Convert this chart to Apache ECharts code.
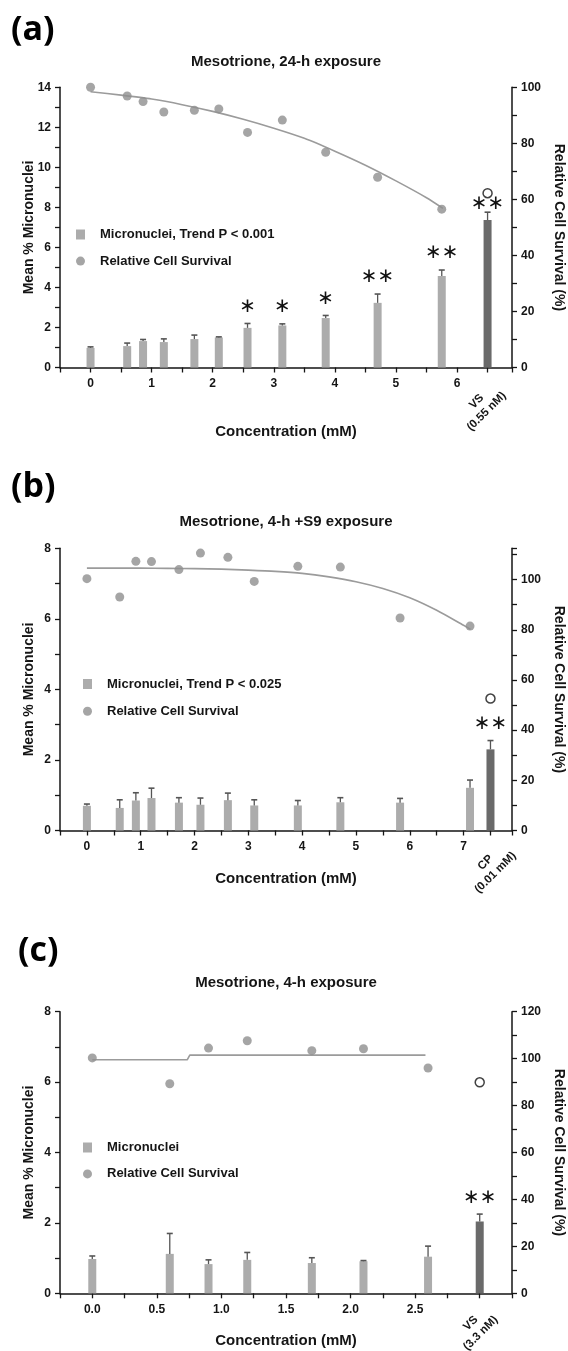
<!DOCTYPE html>
<html>
<head>
<meta charset="utf-8">
<script src="https://cdn.jsdelivr.net/npm/echarts@6/dist/echarts.min.js"></script>
<style>
  html, body { margin: 0; padding: 0; background: #ffffff; }
  #chart { width: 568px; height: 1351px; }
</style>
</head>
<body>
<div id="chart"></div>
<script>
// ---------- Panel (a): 24-h exposure ----------
const concA   = [0, 0.6, 0.86, 1.2, 1.7, 2.1, 2.57, 3.14, 3.85, 4.7, 5.75];
const mnA     = [0.98, 1.07, 1.32, 1.27, 1.42, 1.50, 1.98, 2.10, 2.47, 3.23, 4.57];
const mnErrA  = [1.03, 1.22, 1.40, 1.43, 1.62, 1.53, 2.20, 2.18, 2.60, 3.67, 4.87];
const survA   = [100, 96.9, 94.9, 91.2, 91.8, 92.3, 83.9, 88.3, 76.8, 67.9, 56.5];
const starsA  = ['', '', '', '', '', '', '∗', '∗', '∗', '∗∗', '∗∗'];
const fitA    = [[0, 98.4], [0.5, 97.2], [1, 95.8], [1.5, 93.8], [2, 91.4], [2.5, 88.6], [3, 85.4],
                 [3.5, 81.8], [4, 77.2], [4.5, 72.2], [5, 66.6], [5.5, 60.6], [5.77, 56.8]];
const ctrlPosA = 6.5, ctrlMnA = 7.37, ctrlErrA = 7.76, ctrlSurvA = 62.2;
const ctrlStarsA = '∗∗', ctrlLabelA = 'VS\n(0.55 nM)';

// ---------- Panel (b): 4-h +S9 exposure ----------
const concB   = [0, 0.61, 0.91, 1.2, 1.71, 2.11, 2.62, 3.11, 3.92, 4.71, 5.82, 7.12];
const mnB     = [0.70, 0.64, 0.85, 0.92, 0.79, 0.73, 0.86, 0.71, 0.71, 0.80, 0.79, 1.21];
const mnErrB  = [0.75, 0.87, 1.07, 1.20, 0.93, 0.92, 1.06, 0.87, 0.85, 0.93, 0.91, 1.43];
const survB   = [100.4, 93.1, 107.3, 107.2, 104.0, 110.6, 108.9, 99.3, 105.3, 105.0, 84.7, 81.5];
const starsB  = ['', '', '', '', '', '', '', '', '', '', '', ''];
const fitB    = [[0, 104.6], [0.5, 104.6], [1, 104.6], [1.5, 104.5], [2, 104.4], [2.5, 104.2], [3, 103.8],
                 [3.5, 103.3], [4, 102.5], [4.5, 101.1], [5, 99.2], [5.5, 96.5], [6, 92.8], [6.5, 87.8],
                 [7, 81.8], [7.13, 80.2]];
const ctrlPosB = 7.5, ctrlMnB = 2.30, ctrlErrB = 2.55, ctrlSurvB = 52.6;
const ctrlStarsB = '∗∗', ctrlLabelB = 'CP\n(0.01 mM)';

// ---------- Panel (c): 4-h exposure ----------
const concC   = [0, 0.6, 0.9, 1.2, 1.7, 2.1, 2.6];
const mnC     = [0.975, 1.12, 0.83, 0.95, 0.86, 0.91, 1.04];
const mnErrC  = [1.06, 1.70, 0.95, 1.16, 1.01, 0.93, 1.34];
const survC   = [100.3, 89.3, 104.5, 107.6, 103.4, 104.2, 96.0];
const starsC  = ['', '', '', '', '', '', ''];
const fitC    = [[0, 99.5], [0.735, 99.5], [0.755, 101.5], [2.58, 101.5]];
const ctrlPosC = 3.0, ctrlMnC = 2.04, ctrlErrC = 2.25, ctrlSurvC = 89.9;
const ctrlStarsC = '∗∗', ctrlLabelC = 'VS\n(3.3 nM)';

// Axis extents and label limits
const leftMaxA = 14, leftMaxB = 8, leftMaxC = 8;
const rightMaxA = 100, rightMaxB = 112.5, rightMaxC = 120;
const rightLabelTopA = 100, rightLabelTopB = 100, rightLabelTopC = 120;

// ---------- styling ----------
const FONT = '"Liberation Sans", Arial, Helvetica, sans-serif';
const INK = '#151515';
const LIGHT = '#acacac';
const DARK = '#6a6a6a';
const DOT = '#8e8e8e';
const FIT = '#9b9b9b';
const ERR = '#555555';

const isInt = v => Math.abs(v - Math.round(v)) < 1e-6;

const panels = [
  {
    tag: '(a)', tagPos: [11, 30], title: 'Mesotrione, 24-h exposure', titleY: 62,
    grid: { left: 60, right: 56, top: 87.3, height: 280.2 },
    xMin: -0.5, xMax: 6.9, xInt: 0.5,
    xFmt: v => (isInt(v) && v >= 0 && v <= 6) ? String(Math.round(v)) : '',
    xNameGap: 57,
    leftMax: leftMaxA, rightMax: rightMaxA, rightTop: rightLabelTopA,
    conc: concA, mn: mnA, err: mnErrA, surv: survA, stars: starsA, fit: fitA, smooth: true,
    ctrl: { pos: ctrlPosA, mn: ctrlMnA, err: ctrlErrA, surv: ctrlSurvA, stars: ctrlStarsA, label: ctrlLabelA },
    ctrlStarLift: 8, ctrlLabelShift: [-6, 39],
    legendName: 'Micronuclei, Trend P < 0.001', legendBox: { left: 76, top: 228, gap: 13.6 }
  },
  {
    tag: '(b)', tagPos: [11, 487], title: 'Mesotrione, 4-h +S9 exposure', titleY: 522,
    grid: { left: 60, right: 56, top: 548.3, height: 282.2 },
    xMin: -0.5, xMax: 7.9, xInt: 0.5,
    xFmt: v => (isInt(v) && v >= 0 && v <= 7) ? String(Math.round(v)) : '',
    xNameGap: 41,
    leftMax: leftMaxB, rightMax: rightMaxB, rightTop: rightLabelTopB,
    conc: concB, mn: mnB, err: mnErrB, surv: survB, stars: starsB, fit: fitB, smooth: true,
    ctrl: { pos: ctrlPosB, mn: ctrlMnB, err: ctrlErrB, surv: ctrlSurvB, stars: ctrlStarsB, label: ctrlLabelB },
    ctrlStarLift: 17, ctrlLabelShift: [0, 37],
    legendName: 'Micronuclei, Trend P < 0.025', legendBox: { left: 83, top: 677.5, gap: 14.3 }
  },
  {
    tag: '(c)', tagPos: [18, 951], title: 'Mesotrione, 4-h exposure', titleY: 983,
    grid: { left: 60, right: 56, top: 1011.7, height: 281.6 },
    xMin: -0.25, xMax: 3.25, xInt: 0.25,
    xFmt: v => (isInt(v * 2) && v >= 0 && v <= 2.5) ? v.toFixed(1) : '',
    xNameGap: 40,
    leftMax: leftMaxC, rightMax: rightMaxC, rightTop: rightLabelTopC,
    conc: concC, mn: mnC, err: mnErrC, surv: survC, stars: starsC, fit: fitC, smooth: false,
    ctrl: { pos: ctrlPosC, mn: ctrlMnC, err: ctrlErrC, surv: ctrlSurvC, stars: ctrlStarsC, label: ctrlLabelC },
    ctrlStarLift: 16, ctrlLabelShift: [-4, 35],
    legendName: 'Micronuclei', legendBox: { left: 83, top: 1141, gap: 13.4 }
  }
];

const axisLineStyle = { show: true, onZero: false, lineStyle: { color: INK, width: 1.5 } };
const axisTickStyle = { show: true, inside: false, length: 5, lineStyle: { color: INK, width: 1.3 } };
const labelBase = { color: INK, fontFamily: FONT, fontWeight: 'bold', fontSize: 12 };
const nameBase = { color: INK, fontFamily: FONT, fontWeight: 'bold' };

const option = {
  animation: false,
  backgroundColor: '#ffffff',
  grid: [], xAxis: [], yAxis: [], series: [], legend: [], title: [], graphic: []
};

panels.forEach((P, p) => {
  const yl = 2 * p, yr = 2 * p + 1;

  option.grid.push(Object.assign({ containLabel: false, outerBoundsMode: 'none' }, P.grid));

  option.title.push({
    text: P.title, left: 286, top: P.titleY - 8, textAlign: 'center', padding: 0,
    textStyle: { fontFamily: FONT, fontWeight: 'bold', fontSize: 15, color: INK }
  });

  option.graphic.push({
    type: 'text', x: P.tagPos[0], y: P.tagPos[1], silent: true,
    style: { text: P.tag, font: 'bold 34px "Open Sans", "Liberation Sans", sans-serif',
             fill: '#000', align: 'left', verticalAlign: 'middle' }
  });

  option.xAxis.push({
    type: 'value', gridIndex: p, min: P.xMin, max: P.xMax, interval: P.xInt,
    axisLine: axisLineStyle, axisTick: axisTickStyle, splitLine: { show: false },
    axisLabel: Object.assign({ margin: 10, formatter: P.xFmt, showMinLabel: true, showMaxLabel: true }, labelBase),
    name: 'Concentration (mM)', nameLocation: 'middle', nameGap: P.xNameGap, nameMoveOverlap: false,
    nameTextStyle: Object.assign({ fontSize: 15 }, nameBase)
  });

  option.yAxis.push({
    type: 'value', gridIndex: p, position: 'left', min: 0, max: P.leftMax, interval: 1,
    axisLine: axisLineStyle, axisTick: axisTickStyle, splitLine: { show: false },
    axisLabel: Object.assign({ margin: 9, formatter: v => (Math.round(v) % 2 === 0 ? String(v) : '') }, labelBase),
    name: 'Mean % Micronuclei', nameLocation: 'middle', nameGap: 24, nameRotate: 90, nameMoveOverlap: false,
    nameTextStyle: Object.assign({ fontSize: 14 }, nameBase)
  });

  option.yAxis.push({
    type: 'value', gridIndex: p, position: 'right', min: 0, max: P.rightMax, interval: 10,
    axisLine: axisLineStyle, axisTick: axisTickStyle, splitLine: { show: false },
    axisLabel: Object.assign({ margin: 9,
      formatter: v => (isInt(v / 20) && v <= P.rightTop ? String(v) : '') }, labelBase),
    name: 'Relative Cell Survival (%)', nameLocation: 'middle', nameGap: 40, nameRotate: -90,
    nameMoveOverlap: false,
    nameTextStyle: Object.assign({ fontSize: 14 }, nameBase)
  });

  // micronuclei bars, positive control drawn darker
  option.series.push({
    type: 'bar', name: P.legendName, xAxisIndex: p, yAxisIndex: yl, barWidth: 8, z: 2,
    itemStyle: { color: LIGHT },
    data: P.conc.map((x, i) => [x, P.mn[i]])
      .concat([{ value: [P.ctrl.pos, P.ctrl.mn], itemStyle: { color: DARK } }])
  });

  // upper error bars (mean -> mean + SD)
  const errData = P.conc.map((x, i) => [x, P.mn[i], P.err[i]])
    .concat([[P.ctrl.pos, P.ctrl.mn, P.ctrl.err]]);
  option.series.push({
    type: 'custom', name: 'err' + p, xAxisIndex: p, yAxisIndex: yl, z: 3, silent: true, clip: false,
    data: errData,
    renderItem: (params, api) => {
      const base = api.coord([api.value(0), api.value(1)]);
      const top = api.coord([api.value(0), api.value(2)]);
      return {
        type: 'group', children: [
          { type: 'line', shape: { x1: base[0], y1: base[1], x2: top[0], y2: top[1] },
            style: { stroke: ERR, lineWidth: 1.3 } },
          { type: 'line', shape: { x1: top[0] - 3, y1: top[1], x2: top[0] + 3, y2: top[1] },
            style: { stroke: ERR, lineWidth: 1.6 } }
        ]
      };
    }
  });

  // significance asterisks above the error bars
  const starText = P.stars.concat([P.ctrl.stars]);
  option.series.push({
    type: 'custom', name: 'stars' + p, xAxisIndex: p, yAxisIndex: yl, z: 5, silent: true, clip: false,
    data: errData.map(d => [d[0], d[2]]),
    renderItem: (params, api) => {
      const t = starText[params.dataIndex];
      if (!t) return null;
      const pt = api.coord([api.value(0), api.value(1)]);
      const lift = params.dataIndex === P.conc.length ? P.ctrlStarLift : 17;
      return {
        type: 'text', x: pt[0], y: pt[1] - lift,
        style: { text: t, font: '20px "DejaVu Sans", sans-serif', fill: '#111',
                 align: 'center', verticalAlign: 'middle' }
      };
    }
  });

  // positive-control tick label, slanted
  option.series.push({
    type: 'custom', name: 'ctrlLabel' + p, xAxisIndex: p, yAxisIndex: yl, z: 5, silent: true, clip: false,
    data: [[P.ctrl.pos, 0]],
    renderItem: (params, api) => {
      const pt = api.coord([api.value(0), api.value(1)]);
      return {
        type: 'text', x: pt[0] + P.ctrlLabelShift[0], y: pt[1] + P.ctrlLabelShift[1],
        rotation: Math.PI / 4,
        style: { text: P.ctrl.label, font: 'bold 11.5px ' + FONT, fill: INK, lineHeight: 14,
                 align: 'center', verticalAlign: 'middle' }
      };
    }
  });

  // survival trend line
  option.series.push({
    type: 'line', name: 'fit' + p, xAxisIndex: p, yAxisIndex: yr, z: 3, silent: true,
    data: P.fit, smooth: P.smooth ? 0.25 : false,
    showSymbol: false, symbol: 'none',
    lineStyle: { color: FIT, width: 1.6 }
  });

  // relative cell survival points
  option.series.push({
    type: 'scatter', name: 'Relative Cell Survival', xAxisIndex: p, yAxisIndex: yr, z: 4,
    symbolSize: 9, itemStyle: { color: DOT },
    data: P.conc.map((x, i) => [x, P.surv[i]])
  });

  // positive-control survival, open circle
  option.series.push({
    type: 'scatter', name: 'ctrlSurv' + p, xAxisIndex: p, yAxisIndex: yr, z: 4,
    symbolSize: 9, itemStyle: { color: '#ffffff', borderColor: '#111', borderWidth: 1.5 },
    data: [[P.ctrl.pos, P.ctrl.surv]]
  });

  option.legend.push({
    left: P.legendBox.left, top: P.legendBox.top, orient: 'vertical', padding: 0,
    itemWidth: 9, itemHeight: 10, itemGap: P.legendBox.gap, selectedMode: false,
    data: [{ name: P.legendName, icon: 'rect' }, { name: 'Relative Cell Survival', icon: 'circle' }],
    textStyle: { fontFamily: FONT, fontWeight: 'bold', fontSize: 13, color: INK, padding: [0, 0, 0, 10] }
  });
});

const chart = echarts.init(document.getElementById('chart'), null, { renderer: 'canvas' });
chart.setOption(option);
</script>
</body>
</html>
